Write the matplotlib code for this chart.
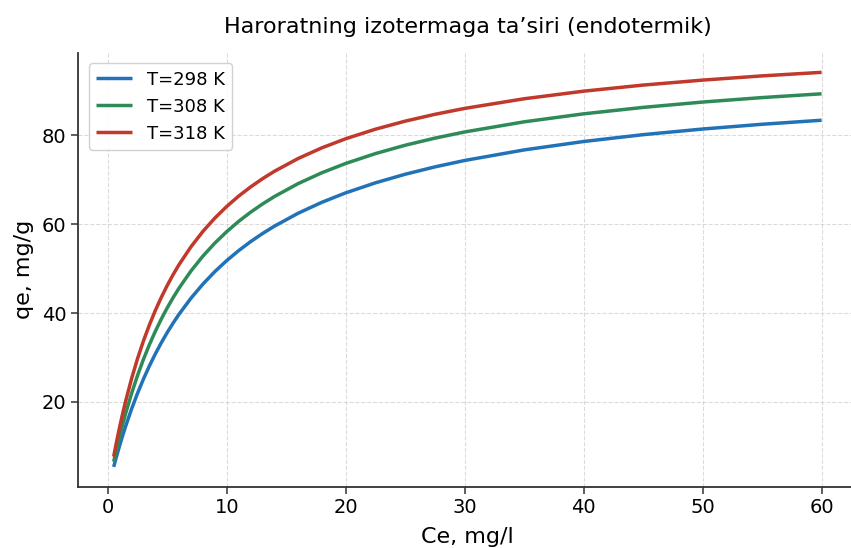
import matplotlib
matplotlib.use("Agg")
import matplotlib.pyplot as plt

ce = [0.5, 0.75, 1, 1.25, 1.5, 2, 2.5, 3, 3.5, 4, 4.5, 5, 5.5, 6, 7, 8, 9, 10, 11, 12, 13, 14, 16, 18, 20,
      22.5, 25, 27.5, 30, 35, 40, 45, 50, 55, 60]
q298 = [5.38, 7.84, 10.18, 12.39, 14.49, 18.39, 21.92, 25.15, 28.10, 30.81, 33.31, 35.63, 37.77, 39.77,
        43.37, 46.53, 49.33, 51.82, 54.05, 56.07, 57.89, 59.55, 62.47, 64.94, 67.06,
        69.32, 71.25, 72.91, 74.35, 76.73, 78.62, 80.16, 81.43, 82.50, 83.41]
q308 = [6.54, 9.50, 12.28, 14.89, 17.36, 21.88, 25.93, 29.58, 32.89, 35.90, 38.65, 41.18, 43.50, 45.65,
        49.49, 52.83, 55.75, 58.33, 60.63, 62.69, 64.54, 66.22, 69.14, 71.59, 73.68,
        75.90, 77.78, 79.38, 80.77, 83.05, 84.85, 86.30, 87.50, 88.51, 89.36]
q318 = [7.70, 11.14, 14.34, 17.33, 20.13, 25.21, 29.71, 33.73, 37.33, 40.59, 43.53, 46.22, 48.68, 50.94,
        54.94, 58.39, 61.38, 64.00, 66.32, 68.38, 70.23, 71.90, 74.79, 77.20, 79.24,
        81.39, 83.20, 84.74, 86.07, 88.24, 89.95, 91.32, 92.44, 93.39, 94.19]
labels = ["T=298 K", "T=308 K", "T=318 K"]
colors = ["#2272b8", "#2e8b57", "#c0392b"]

fig = plt.figure(figsize=(8.51, 5.48), dpi=100)
ax = fig.add_axes([0.092, 0.112, 0.915, 0.792])
for q, lab, c in zip([q298, q308, q318], labels, colors):
    ax.plot(ce, q, color=c, lw=2.5, label=lab, solid_capstyle="butt")

ax.set_title("Haroratning izotermaga ta’siri (endotermik)", fontsize=16, pad=14)
ax.set_xlabel("Ce, mg/l", fontsize=16, labelpad=7)
ax.set_ylabel("qe, mg/g", fontsize=16, labelpad=6)
ax.tick_params(labelsize=14, length=5, width=1.1, color="#333333")
ax.set_xticks([0, 10, 20, 30, 40, 50, 60])
ax.set_yticks([20, 40, 60, 80])
ax.grid(True, linestyle="--", color="#cccccc", alpha=0.7, lw=0.8)
for s in ["top", "right"]:
    ax.spines[s].set_visible(False)
for s in ["left", "bottom"]:
    ax.spines[s].set_color("#333333")
    ax.spines[s].set_linewidth(1.3)
ax.legend(loc="upper left", fontsize=13, framealpha=0.9, borderaxespad=0.6)
fig.savefig("out.png", dpi=100)
